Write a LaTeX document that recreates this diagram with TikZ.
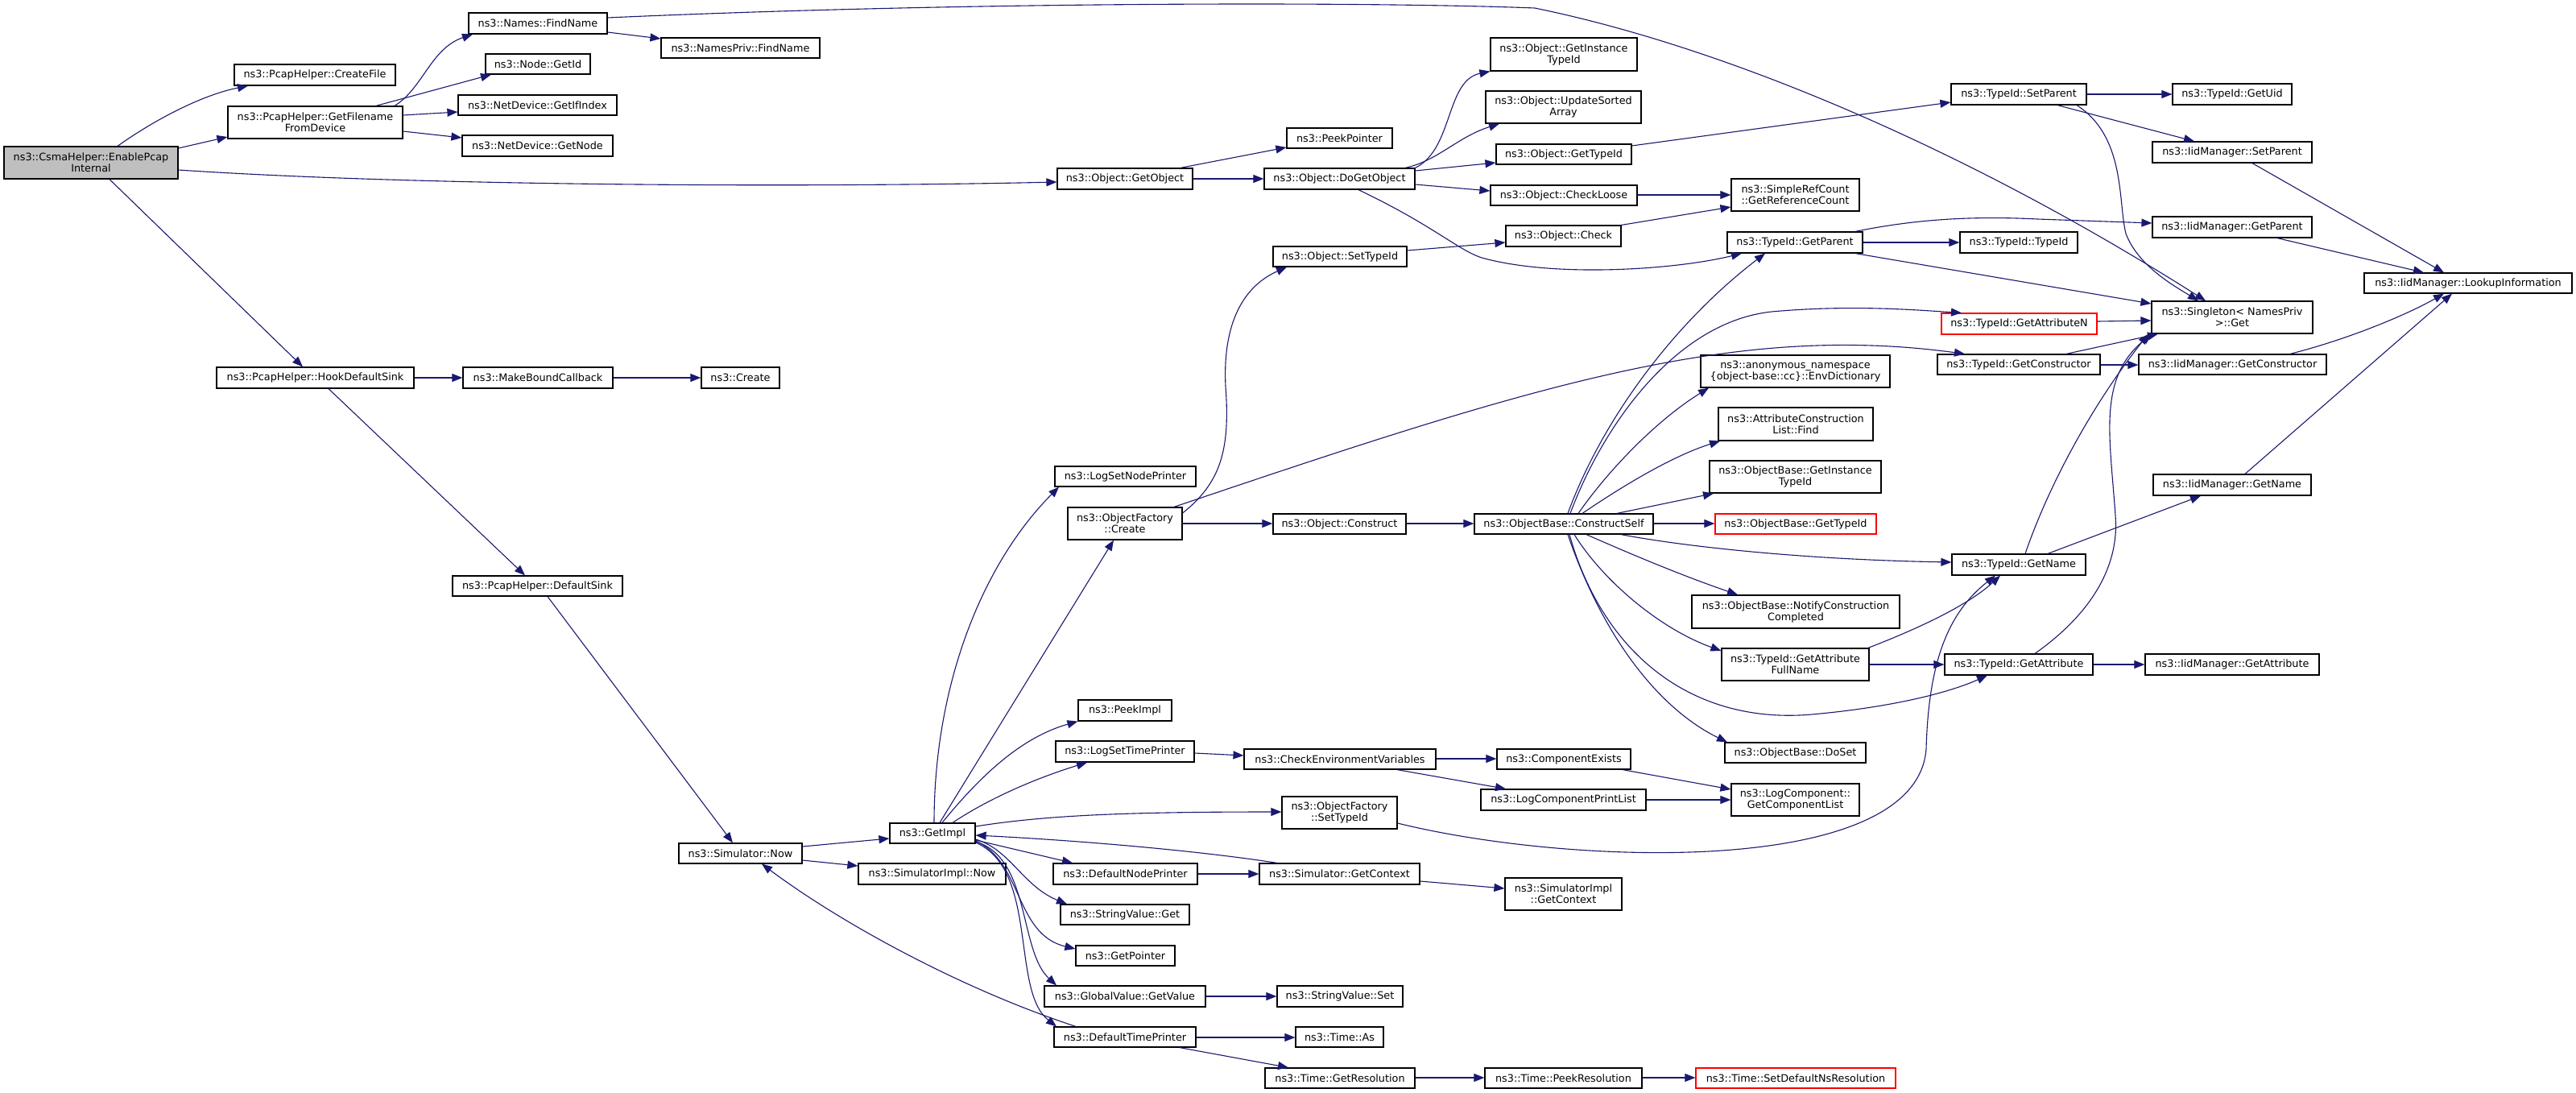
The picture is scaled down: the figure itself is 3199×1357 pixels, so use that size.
\documentclass[tikz,border=0pt]{standalone}
\usepackage{fontspec}
\setmainfont{DejaVu Sans}
\usetikzlibrary{arrows.meta}
\definecolor{edgec}{HTML}{191970}
\definecolor{rootfill}{HTML}{BFBFBF}
\tikzset{
 nbx/.style={draw=black, line width=1.2pt, fill=white, inner sep=0pt, align=center, font=\fontsize{12.8}{14}\selectfont},
 redbx/.style={draw=red},
 rootbx/.style={fill=rootfill},
 cn/.style={draw=edgec, line width=1.1pt, -{Triangle[length=13pt,width=10pt]}},
}
\newcommand\nbox[7][]{\node[nbx,#1,minimum width={(#4-#3)*1pt},minimum height={(#6-#5)*1pt}] (#2) at ({(#3+#4)/2},{-(#5+#6)/2}) {#7};}
\begin{document}
\begin{tikzpicture}[x=1pt,y=1pt]
\useasboundingbox[fill=white] (0,0) rectangle (3199,-1357);
% nodes
\nbox[rootbx]{e0}{5}{221}{182}{222}{ns3::CsmaHelper::EnablePcap\\Internal}
\nbox{cf}{291}{491}{80}{106}{ns3::PcapHelper::CreateFile}
\nbox{gf}{283}{500}{132}{172}{ns3::PcapHelper::GetFilename\\FromDevice}
\nbox{fn}{582}{754}{16}{42}{ns3::Names::FindName}
\nbox{gid}{603}{733}{67}{92}{ns3::Node::GetId}
\nbox{gif}{569}{766}{118}{143}{ns3::NetDevice::GetIfIndex}
\nbox{gn}{574}{761}{168}{194}{ns3::NetDevice::GetNode}
\nbox{hds}{269}{514}{456}{482}{ns3::PcapHelper::HookDefaultSink}
\nbox{mbc}{575}{761}{456}{482}{ns3::MakeBoundCallback}
\nbox{cr}{871}{968}{456}{482}{ns3::Create}
\nbox{ds}{562}{773}{715}{740}{ns3::PcapHelper::DefaultSink}
\nbox{npf}{821}{1018}{47}{72}{ns3::NamesPriv::FindName}
\nbox{go}{1313}{1481}{209}{235}{ns3::Object::GetObject}
\nbox{pp}{1598}{1729}{159}{184}{ns3::PeekPointer}
\nbox{dgo}{1570}{1757}{209}{235}{ns3::Object::DoGetObject}
\nbox{ogit}{1851}{2033}{47}{88}{ns3::Object::GetInstance\\TypeId}
\nbox{usa}{1845}{2038}{113}{153}{ns3::Object::UpdateSorted\\Array}
\nbox{ogt}{1858}{2026}{179}{204}{ns3::Object::GetTypeId}
\nbox{ocl}{1851}{2033}{230}{255}{ns3::Object::CheckLoose}
\nbox{och}{1870}{2013}{280}{306}{ns3::Object::Check}
\nbox{rc}{2150}{2309}{222}{262}{ns3::SimpleRefCount\\::GetReferenceCount}
\nbox{tgp}{2145}{2313}{288}{314}{ns3::TypeId::GetParent}
\nbox{ost}{1581}{1747}{306}{331}{ns3::Object::SetTypeId}
\nbox{anon}{2112}{2347}{441}{481}{ns3::anonymous\_namespace\\\{object-base::cc\}::EnvDictionary}
\nbox{tsp}{2423}{2591}{104}{130}{ns3::TypeId::SetParent}
\nbox{tgu}{2698}{2846}{104}{130}{ns3::TypeId::GetUid}
\nbox{isp}{2673}{2871}{176}{202}{ns3::IidManager::SetParent}
\nbox{igp}{2673}{2871}{269}{295}{ns3::IidManager::GetParent}
\nbox{ttid}{2434}{2580}{288}{314}{ns3::TypeId::TypeId}
\nbox{lui}{2936}{3194}{339}{364}{ns3::IidManager::LookupInformation}
\nbox{sg}{2672}{2872}{374}{414}{ns3::Singleton< NamesPriv\\>::Get}
\nbox[redbx]{gan}{2411}{2604}{389}{415}{ns3::TypeId::GetAttributeN}
\nbox{tgc}{2406}{2608}{440}{465}{ns3::TypeId::GetConstructor}
\nbox{igc}{2656}{2889}{440}{465}{ns3::IidManager::GetConstructor}
\nbox{ign}{2674}{2870}{589}{615}{ns3::IidManager::GetName}
\nbox{tgn}{2424}{2590}{688}{714}{ns3::TypeId::GetName}
\nbox{tga}{2415}{2599}{812}{838}{ns3::TypeId::GetAttribute}
\nbox{iga}{2664}{2880}{812}{838}{ns3::IidManager::GetAttribute}
\nbox{lsnp}{1310}{1485}{579}{604}{ns3::LogSetNodePrinter}
\nbox{ofc}{1326}{1468}{630}{670}{ns3::ObjectFactory\\::Create}
\nbox{ocon}{1581}{1746}{638}{663}{ns3::Object::Construct}
\nbox{pim}{1339}{1455}{869}{895}{ns3::PeekImpl}
\nbox{acl}{2134}{2326}{506}{547}{ns3::AttributeConstruction\\List::Find}
\nbox{obgit}{2123}{2336}{572}{612}{ns3::ObjectBase::GetInstance\\TypeId}
\nbox{cs}{1831}{2053}{638}{663}{ns3::ObjectBase::ConstructSelf}
\nbox[redbx]{obgt}{2130}{2330}{638}{663}{ns3::ObjectBase::GetTypeId}
\nbox{ncc}{2101}{2359}{739}{780}{ns3::ObjectBase::NotifyConstruction\\Completed}
\nbox{gafn}{2138}{2321}{805}{845}{ns3::TypeId::GetAttribute\\FullName}
\nbox{dset}{2142}{2317}{922}{947}{ns3::ObjectBase::DoSet}
\nbox{cev}{1545}{1783}{930}{955}{ns3::CheckEnvironmentVariables}
\nbox{cex}{1859}{2025}{930}{955}{ns3::ComponentExists}
\nbox{lcpl}{1839}{2044}{980}{1006}{ns3::LogComponentPrintList}
\nbox{gcl}{2150}{2309}{973}{1013}{ns3::LogComponent::\\GetComponentList}
\nbox{ofst}{1592}{1735}{989}{1029}{ns3::ObjectFactory\\::SetTypeId}
\nbox{sgc}{1564}{1763}{1072}{1098}{ns3::Simulator::GetContext}
\nbox{sigc}{1869}{2014}{1090}{1130}{ns3::SimulatorImpl\\::GetContext}
\nbox{svs}{1586}{1742}{1224}{1250}{ns3::StringValue::Set}
\nbox{tas}{1609}{1718}{1275}{1300}{ns3::Time::As}
\nbox{tgr}{1571}{1757}{1326}{1351}{ns3::Time::GetResolution}
\nbox{tpr}{1844}{2039}{1326}{1351}{ns3::Time::PeekResolution}
\nbox[redbx]{tsd}{2106}{2354}{1326}{1351}{ns3::Time::SetDefaultNsResolution}
\nbox{lstp}{1311}{1483}{920}{946}{ns3::LogSetTimePrinter}
\nbox{gi}{1105}{1211}{1022}{1047}{ns3::GetImpl}
\nbox{sn}{843}{996}{1047}{1072}{ns3::Simulator::Now}
\nbox{sin}{1066}{1249}{1072}{1098}{ns3::SimulatorImpl::Now}
\nbox{dnp}{1308}{1487}{1072}{1098}{ns3::DefaultNodePrinter}
\nbox{svg}{1317}{1477}{1123}{1148}{ns3::StringValue::Get}
\nbox{gp}{1336}{1459}{1174}{1199}{ns3::GetPointer}
\nbox{ggv}{1297}{1497}{1224}{1250}{ns3::GlobalValue::GetValue}
\nbox{dtp}{1309}{1485}{1275}{1300}{ns3::DefaultTimePrinter}
% edges
\draw[cn] (e0.north -| 146,0) .. controls (190,-150) and (250,-118) .. (cf.south -| 308,0);
\draw[cn] (e0.east |- 0,-184) -- (gf.west |- 0,-170);
\draw[cn] (e0.east |- 0,-211) .. controls (520,-231) and (1000,-233) .. (go.west |- 0,-226);
\draw[cn] (e0.south -| 136,0) -- (hds.north -| 376,0);
\draw[cn] (gf.north -| 490,0) .. controls (525,-110) and (535,-60) .. (fn.south -| 587,0);
\draw[cn] (gf.north -| 467,0) -- (gid.south -| 610,0);
\draw[cn] (gf.east |- 0,-143) -- (gif.west |- 0,-139);
\draw[cn] (gf.east |- 0,-163) -- (gn.west |- 0,-171);
\draw[cn] (fn.east |- 0,-40) -- (npf.west |- 0,-48);
\draw[cn] (fn.east |- 0,-22) .. controls (1200,-2) and (1700,-2) .. (1906,-10) .. controls (2150,-60) and (2450,-190) .. (sg.north -| 2739,0);
\draw[cn] (go.north -| 1466,0) -- (pp.west |- 0,-183);
\draw[cn] (go.east |- 0,-222) -- (dgo.west |- 0,-222);
\draw[cn] (dgo.north east) .. controls (1805,-185) and (1795,-100) .. (ogit.south west);
\draw[cn] (dgo.north -| 1745,0) .. controls (1785,-200) and (1810,-170) .. (usa.south -| 1862,0);
\draw[cn] (dgo.east |- 0,-212) -- (ogt.west |- 0,-202);
\draw[cn] (dgo.east |- 0,-229) -- (ocl.west |- 0,-237);
\draw[cn] (dgo.south -| 1687,0) .. controls (1780,-280) and (1810,-310) .. (1840,-320) .. controls (1930,-345) and (2080,-335) .. (tgp.south -| 2163,0);
\draw[cn] (ogt.east |- 0,-181) -- (tsp.west |- 0,-127);
\draw[cn] (ocl.east |- 0,-242) -- (rc.west |- 0,-242);
\draw[cn] (och.north east) -- (rc.west |- 0,-257);
\draw[cn] (ost.east |- 0,-311) -- (och.west |- 0,-301);
\draw[cn] (tsp.east |- 0,-117) -- (tgu.west |- 0,-117);
\draw[cn] (tsp.south -| 2555,0) -- (isp.north -| 2725,0);
\draw[cn] (tsp.south -| 2579,0) .. controls (2640,-170) and (2630,-250) .. (2640,-290) .. controls (2655,-330) and (2700,-355) .. (sg.north -| 2730,0);
\draw[cn] (isp.south -| 2797,0) -- (lui.north -| 3035,0);
\draw[cn] (igp.south -| 2828,0) -- (lui.north -| 3010,0);
\draw[cn] (tgp.north -| 2304,0) .. controls (2380,-272) and (2450,-268) .. (2530,-272) -- (igp.west |- 0,-277);
\draw[cn] (tgp.east |- 0,-301) -- (ttid.west |- 0,-301);
\draw[cn] (tgp.south -| 2304,0) -- (sg.west |- 0,-377);
\draw[cn] (gan.east |- 0,-399) -- (sg.west |- 0,-398);
\draw[cn] (tgc.north -| 2566,0) -- (sg.south -| 2680,0);
\draw[cn] (tgc.east |- 0,-453) -- (igc.west |- 0,-453);
\draw[cn] (igc.north -| 2844,0) .. controls (2920,-420) and (2990,-390) .. (lui.south -| 3035,0);
\draw[cn] (ign.north -| 2788,0) -- (lui.south -| 3045,0);
\draw[cn] (tgn.north -| 2515,0) .. controls (2545,-600) and (2600,-500) .. (sg.south -| 2668,0);
\draw[cn] (tgn.north -| 2543,0) -- (ign.south -| 2733,0);
\draw[cn] (tga.north -| 2527,0) .. controls (2600,-760) and (2632,-700) .. (2627,-640) .. controls (2620,-540) and (2605,-470) .. (sg.south -| 2672,0);
\draw[cn] (tga.east |- 0,-825) -- (iga.west |- 0,-825);
\draw[cn] (hds.east |- 0,-469) -- (mbc.west |- 0,-469);
\draw[cn] (mbc.east |- 0,-469) -- (cr.west |- 0,-469);
\draw[cn] (hds.south -| 408,0) -- (ds.north -| 652,0);
\draw[cn] (ds.south -| 680,0) -- (sn.north -| 910,0);
\draw[cn] (ofc.east |- 0,-637) .. controls (1515,-600) and (1528,-560) .. (1522,-480) .. controls (1518,-400) and (1545,-355) .. (ost.south -| 1598,0);
\draw[cn] (ofc.north -| 1458,0) .. controls (1900,-480) and (2150,-400) .. (tgc.north -| 2440,0);
\draw[cn] (ofc.east |- 0,-650) -- (ocon.west |- 0,-650);
\draw[cn] (ocon.east |- 0,-650) -- (cs.west |- 0,-650);
\draw[cn] (cs.north -| 1947,0) .. controls (1990,-520) and (2080,-400) .. (tgp.south -| 2192,0);
\draw[cn] (cs.north -| 1950,0) .. controls (1990,-530) and (2080,-400) .. (2200,-387) .. controls (2300,-378) and (2380,-385) .. (gan.north -| 2436,0);
\draw[cn] (cs.north -| 1960,0) .. controls (2000,-580) and (2060,-520) .. (anon.south -| 2122,0);
\draw[cn] (cs.north -| 1965,0) .. controls (2020,-600) and (2080,-565) .. (acl.south -| 2136,0);
\draw[cn] (cs.north -| 2008,0) -- (obgit.south -| 2128,0);
\draw[cn] (cs.east |- 0,-650) -- (obgt.west |- 0,-650);
\draw[cn] (cs.south -| 2013,0) .. controls (2100,-680) and (2250,-695) .. (tgn.west |- 0,-698);
\draw[cn] (cs.south -| 1970,0) .. controls (2030,-690) and (2090,-715) .. (ncc.north -| 2158,0);
\draw[cn] (cs.south -| 1955,0) .. controls (1990,-720) and (2060,-780) .. (gafn.west |- 0,-808);
\draw[cn] (cs.south -| 1949,0) .. controls (1990,-810) and (2100,-900) .. (2250,-887) .. controls (2350,-878) and (2420,-860) .. (tga.south -| 2468,0);
\draw[cn] (cs.south -| 1947,0) .. controls (1990,-790) and (2060,-880) .. (dset.north -| 2145,0);
\draw[cn] (gafn.north -| 2320,0) .. controls (2370,-785) and (2440,-755) .. (tgn.south -| 2484,0);
\draw[cn] (gafn.east |- 0,-825) -- (tga.west |- 0,-825);
\draw[cn] (sn.east |- 0,-1051) -- (gi.west |- 0,-1041);
\draw[cn] (sn.east |- 0,-1068) -- (sin.west |- 0,-1075);
\draw[cn] (gi.north -| 1160,0) .. controls (1160,-850) and (1220,-700) .. (lsnp.south -| 1315,0);
\draw[cn] (gi.north -| 1167,0) -- (ofc.south -| 1383,0);
\draw[cn] (gi.north -| 1170,0) .. controls (1220,-960) and (1270,-915) .. (pim.south west);
\draw[cn] (gi.north -| 1183,0) .. controls (1230,-990) and (1290,-965) .. (lstp.south -| 1350,0);
\draw[cn] (gi.east |- 0,-1026) .. controls (1300,-1012) and (1400,-1008) .. (ofst.west |- 0,-1008);
\draw[cn] (sgc.north -| 1586,0) .. controls (1480,-1055) and (1330,-1043) .. (gi.east |- 0,-1037);
\draw[cn] (gi.east |- 0,-1043) -- (dnp.north -| 1332,0);
\draw[cn] (gi.east |- 0,-1042) .. controls (1255,-1055) and (1270,-1100) .. (svg.north -| 1325,0);
\draw[cn] (gi.east |- 0,-1044) .. controls (1270,-1070) and (1260,-1160) .. (gp.west |- 0,-1178);
\draw[cn] (gi.east |- 0,-1045) .. controls (1280,-1065) and (1265,-1180) .. (ggv.north -| 1312,0);
\draw[cn] (gi.east |- 0,-1046) .. controls (1290,-1080) and (1255,-1230) .. (dtp.north -| 1312,0);
\draw[cn] (dtp.north -| 1336,0) .. controls (1200,-1230) and (1050,-1150) .. (sn.south -| 946,0);
\draw[cn] (lstp.east |- 0,-935) -- (cev.west |- 0,-938);
\draw[cn] (cev.east |- 0,-942) -- (cex.west |- 0,-942);
\draw[cn] (cev.south -| 1735,0) -- (lcpl.north -| 1870,0);
\draw[cn] (cex.south -| 2015,0) -- (gcl.west |- 0,-980);
\draw[cn] (lcpl.east |- 0,-993) -- (gcl.west |- 0,-993);
\draw[cn] (ofst.east |- 0,-1022) .. controls (1950,-1075) and (2380,-1090) .. (2392,-930) .. controls (2395,-820) and (2420,-760) .. (tgn.south -| 2478,0);
\draw[cn] (sgc.east |- 0,-1094) -- (sigc.west |- 0,-1103);
\draw[cn] (dnp.east |- 0,-1085) -- (sgc.west |- 0,-1085);
\draw[cn] (ggv.east |- 0,-1237) -- (svs.west |- 0,-1237);
\draw[cn] (dtp.east |- 0,-1288) -- (tas.west |- 0,-1288);
\draw[cn] (dtp.south -| 1465,0) -- (tgr.north -| 1600,0);
\draw[cn] (tgr.east |- 0,-1338) -- (tpr.west |- 0,-1338);
\draw[cn] (tpr.east |- 0,-1338) -- (tsd.west |- 0,-1338);
\end{tikzpicture}
\end{document}
